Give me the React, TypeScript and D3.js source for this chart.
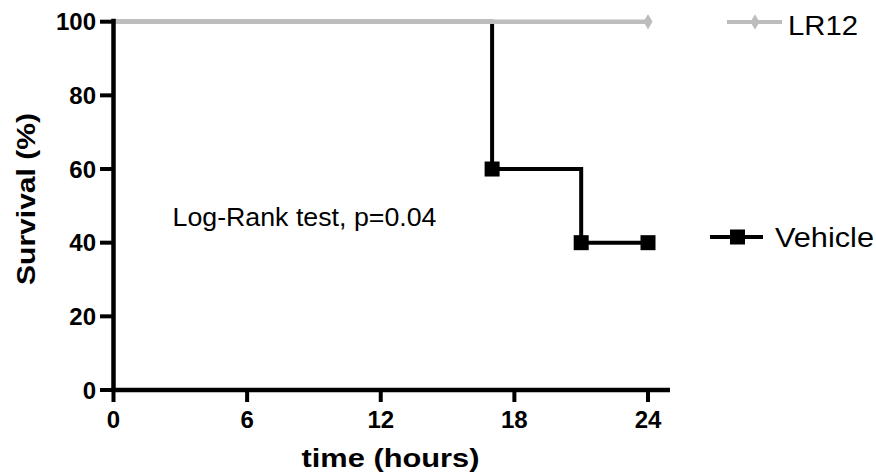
import React from "react";
import * as d3 from "d3";

const xTicks = [0, 6, 12, 18, 24];
const yTicks = [0, 20, 40, 60, 80, 100];
const lr12Times = [0, 24];
const lr12Survival = [100, 100];
const vehicleTimes = [0, 17, 21, 24];
const vehicleSurvival = [100, 60, 40, 40];
const vehicleMarkerTimes = [17, 21, 24];
const vehicleMarkerSurvival = [60, 40, 40];
const annotation = "Log-Rank test, p=0.04";

const W = 876;
const H = 476;

export default function App() {
  const x = d3.scaleLinear().domain([0, 24]).range([113.5, 648]);
  const y = d3.scaleLinear().domain([0, 100]).range([390, 21.7]);
  const stepLine = d3
    .line<[number, number]>()
    .x((d) => x(d[0]))
    .y((d) => y(d[1]))
    .curve(d3.curveStepAfter);

  const lrPts: [number, number][] = lr12Times.map((t, i) => [t, lr12Survival[i]]);
  const vPts: [number, number][] = vehicleTimes.map((t, i) => [t, vehicleSurvival[i]]);
  const font = "'Liberation Sans', Arial, sans-serif";
  const gray = "#bdbdbd";
  const diamond = d3.symbol().type(d3.symbolDiamond).size(70)();

  return (
    <svg
      width={W}
      height={H}
      style={{ position: "absolute", left: 0, top: 0, background: "#fff" }}
      fontFamily={font}
    >
      {/* Vehicle line */}
      <path d={stepLine(vPts) || ""} fill="none" stroke="#000" strokeWidth={4} strokeLinejoin="miter" />
      {vehicleMarkerTimes.map((t, i) => (
        <rect
          key={i}
          x={x(t) - 7.5}
          y={y(vehicleMarkerSurvival[i]) - 7.5}
          width={15}
          height={15}
          fill="#000"
        />
      ))}
      {/* LR12 line (drawn on top) */}
      <path d={stepLine(lrPts) || ""} fill="none" stroke={gray} strokeWidth={4.5} />
      <path d={diamond || ""} transform={`translate(${x(24)},${y(100)})`} fill={gray} />

      {/* Axes */}
      <line x1={x(0)} x2={x(0)} y1={y(0) + 2} y2={y(100) - 3} stroke="#000" strokeWidth={4.5} />
      <line x1={x(0) - 2} x2={670} y1={y(0)} y2={y(0)} stroke="#000" strokeWidth={4.5} />
      {yTicks.map((t) => (
        <g key={"y" + t}>
          <line x1={x(0) - 13.5} x2={x(0)} y1={y(t)} y2={y(t)} stroke="#000" strokeWidth={4} />
          <text
            x={96}
            y={y(t) + 8.5}
            textAnchor="end"
            fontSize={24}
            fontWeight="bold"
            fill="#000"
          >
            {t}
          </text>
        </g>
      ))}
      {xTicks.map((t) => (
        <g key={"x" + t}>
          <line x1={x(t)} x2={x(t)} y1={y(0)} y2={y(0) + 12} stroke="#000" strokeWidth={4} />
          <text x={x(t)} y={428} textAnchor="middle" fontSize={24} fontWeight="bold" fill="#000">
            {t}
          </text>
        </g>
      ))}

      {/* Axis titles */}
      <text
        x={301.5}
        y={467}
        fontSize={26}
        fontWeight="bold"
        textLength={178}
        lengthAdjust="spacingAndGlyphs"
        fill="#000"
      >
        time (hours)
      </text>
      <text
        transform="translate(35,285) rotate(-90)"
        x={0}
        y={0}
        fontSize={26}
        fontWeight="bold"
        textLength={172}
        lengthAdjust="spacingAndGlyphs"
        fill="#000"
      >
        Survival (%)
      </text>

      {/* Annotation */}
      <text
        x={172.5}
        y={226}
        fontSize={25}
        textLength={264}
        lengthAdjust="spacingAndGlyphs"
        fill="#000"
      >
        {annotation}
      </text>

      {/* Legend */}
      <line x1={727} x2={782} y1={22} y2={22} stroke={gray} strokeWidth={4} />
      <path d={diamond || ""} transform="translate(755,22)" fill={gray} />
      <text x={788} y={35} fontSize={28} textLength={70} lengthAdjust="spacingAndGlyphs" fill="#000">
        LR12
      </text>
      <line x1={710} x2={763} y1={237} y2={237} stroke="#000" strokeWidth={4} />
      <rect x={730} y={229.5} width={15} height={15} fill="#000" />
      <text x={775} y={247} fontSize={27} textLength={99} lengthAdjust="spacingAndGlyphs" fill="#000">
        Vehicle
      </text>
    </svg>
  );
}
